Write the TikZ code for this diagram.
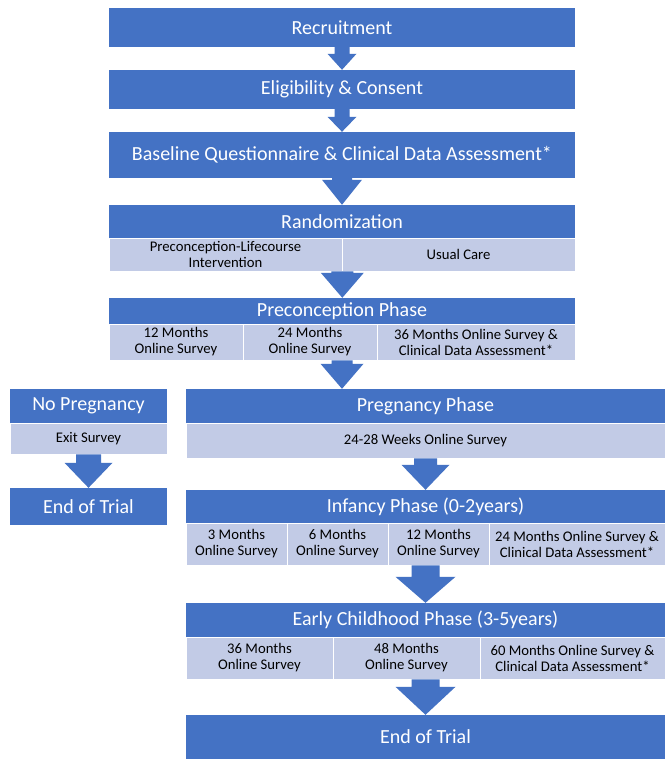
\documentclass[tikz,border=0pt]{standalone}
\usepackage{fontspec}
\setmainfont{Carlito}
\usetikzlibrary{calc}

\definecolor{mainblue}{HTML}{4472C4}
\definecolor{rowblue}{RGB}{194,203,230}

\newcommand{\headfont}{\fontsize{20}{22}\selectfont}
\newcommand{\cellfont}{\fontsize{14.7}{16}\selectfont}

% block arrow: start point, target node, half shaft, half head, head length
\newcommand{\blockarr}[5]{%
  \fill[mainblue] let \p1=#1, \p2=(#2.north) in
    (\x1-#3,\y1) -- (\x1-#3,\y2+#5) -- (\x1-#4,\y2+#5) -- (\x1,\y2)
    -- (\x1+#4,\y2+#5) -- (\x1+#3,\y2+#5) -- (\x1+#3,\y1) -- cycle;}

\begin{document}
\begin{tikzpicture}[x=1pt, y=-1pt,
    phase/.style={fill=mainblue, text=white, font=\headfont, inner sep=0pt},
    cell/.style={fill=rowblue, draw=white, line width=0.6pt, text=black,
        font=\cellfont, align=center, inner sep=0pt}]
    \fill[white] (0,0) rectangle (665,759);
    \useasboundingbox (0,0) rectangle (665,759);

    % Top boxes
    \node[phase, minimum width=466pt, minimum height=39pt] (recruit) at (342,27.5) {Recruitment};
    \node[phase, minimum width=466pt, minimum height=39pt] (elig) at (342,89.5) {Eligibility \& Consent};
    \node[phase, minimum width=466pt, minimum height=46pt] (base) at (342,155) {Baseline Questionnaire \& Clinical Data Assessment*};

    % Randomization
    \node[phase, minimum width=466pt, minimum height=33pt] (rand) at (342,221.5) {Randomization};
    \node[cell, minimum width=233pt, minimum height=33pt] (rand1) at (225.5,254.5) {Preconception-Lifecourse\\Intervention};
    \node[cell, minimum width=233pt, minimum height=33pt] (rand2) at (458.5,254.5) {Usual Care};

    % Preconception phase
    \node[phase, minimum width=466pt, minimum height=26pt] (prec) at (342,311) {Preconception Phase};
    \foreach \cx/\cw/\txt/\nm in {176/134/{12 Months\\Online Survey}/pre1,
            310/134/{24 Months\\Online Survey}/pre2,
            476/198/{36 Months Online Survey \&\\Clinical Data Assessment*}/pre3}
        \node[cell, minimum width=\cw pt, minimum height=36pt] (\nm) at (\cx,342) {\txt};

    % No pregnancy branch
    \node[phase, minimum width=157pt, minimum height=34pt] (nopreg) at (88.5,406) {No Pregnancy};
    \node[cell, minimum width=157pt, minimum height=31pt] (exit) at (88.5,438.5) {Exit Survey};
    \node[phase, minimum width=157pt, minimum height=37pt] (endleft) at (88.5,506.5) {End of Trial};

    % Pregnancy phase
    \node[phase, minimum width=479pt, minimum height=34pt] (preg) at (425.5,406) {Pregnancy Phase};
    \node[cell, minimum width=479pt, minimum height=35pt] (pregrow) at (425.5,440.5) {24-28 Weeks Online Survey};

    % Infancy phase
    \node[phase, minimum width=479pt, minimum height=33pt] (inf) at (425.5,506.5) {Infancy Phase (0-2years)};
    \foreach \cx/\cw/\txt/\nm in {236.5/101/{3 Months\\Online Survey}/inf1,
            337.5/101/{6 Months\\Online Survey}/inf2,
            438.5/101/{12 Months\\Online Survey}/inf3,
            577/176/{24 Months Online Survey \&\\Clinical Data Assessment*}/inf4}
        \node[cell, minimum width=\cw pt, minimum height=42pt] (\nm) at (\cx,544) {\txt};

    % Early childhood phase
    \node[phase, minimum width=479pt, minimum height=34pt] (ec) at (425.5,620) {Early Childhood Phase (3-5years)};
    \foreach \cx/\cw/\txt/\nm in {259.5/147/{36 Months\\Online Survey}/ec1,
            406.5/147/{48 Months\\Online Survey}/ec2,
            572.5/185/{60 Months Online Survey \&\\Clinical Data Assessment*}/ec3}
        \node[cell, minimum width=\cw pt, minimum height=42pt] (\nm) at (\cx,658) {\txt};

    \node[phase, minimum width=479pt, minimum height=44pt] (endtrial) at (425.5,737) {End of Trial};

    % Arrows
    \blockarr{(recruit.south)}{elig}{7.5pt}{14.5pt}{16pt}
    \blockarr{(elig.south)}{base}{7.5pt}{14.5pt}{15pt}
    \blockarr{(base.south)}{rand}{10pt}{20pt}{25pt}
    \blockarr{(rand1.south east)}{prec}{11pt}{21.5pt}{25pt}
    \blockarr{(prec.south |- pre2.south)}{preg}{10.5pt}{21.5pt}{25pt}
    \blockarr{(exit.south)}{endleft}{12.5pt}{24pt}{25pt}
    \blockarr{(pregrow.south)}{inf}{11.5pt}{24pt}{25pt}
    \blockarr{(inf.south |- inf1.south)}{ec}{14pt}{30pt}{26pt}
    \blockarr{(ec.south |- ec1.south)}{endtrial}{14pt}{30pt}{28pt}
\end{tikzpicture}
\end{document}
